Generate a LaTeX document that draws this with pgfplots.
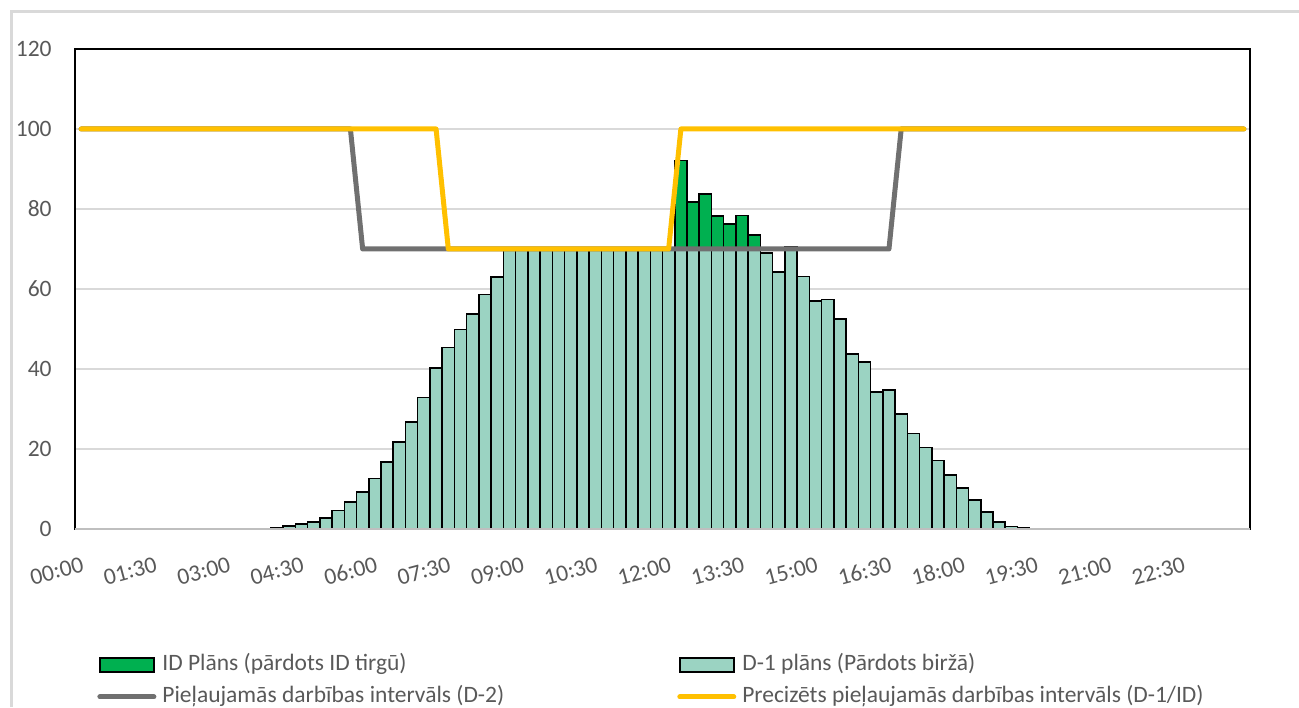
\documentclass[border=0pt]{standalone}
\usepackage{fontspec}
\setmainfont{Carlito}
\usepackage{pgfplots}
\pgfplotsset{compat=1.18}
\definecolor{teal1}{RGB}{155,211,194}
\definecolor{green1}{RGB}{0,176,80}
\definecolor{lgray}{RGB}{112,112,112}
\definecolor{yell}{RGB}{255,192,0}
\definecolor{txt}{RGB}{89,89,89}
\definecolor{gridc}{RGB}{217,217,217}
\definecolor{axisc}{RGB}{191,191,191}
\begin{document}
\begin{tikzpicture}[x=0.5bp,y=0.5bp]
\path[use as bounding box] (0,0) rectangle (1299,707);
\draw[gridc, line width=1.25bp] (11.5,0) -- (11.5,695.5) -- (1299,695.5);
\begin{axis}[
  at={(37.5bp,89bp)}, anchor=south west,
  scale only axis, width=587.5bp, height=240bp,
  xmin=-0.5, xmax=95.5, ymin=0, ymax=120,
  ytick={0,20,...,120},
  xtick={0,6,...,90},
  xticklabels={00:00,01:30,03:00,04:30,06:00,07:30,09:00,10:30,12:00,13:30,15:00,16:30,18:00,19:30,21:00,22:30},
  major tick length=0pt,
  ymajorgrids, grid style={gridc, line width=0.75bp},
  axis line style={black, line width=0.75bp},
  tick label style={font=\fontsize{11.75bp}{14bp}\selectfont, text=txt},
  /pgf/number format/assume math mode=true,
  yticklabel style={anchor=east, inner sep=0pt, xshift=-11.5bp},
  xticklabel style={rotate=15, anchor=north east, inner sep=0pt, yshift=-13bp, xshift=-3.5bp},
  legend columns=2,
  legend cell align=left,
  legend style={draw=none, fill=none, at={(axis description cs:0.0187,-0.31667)}, anchor=west,
    inner sep=0pt, row sep=4.5bp, font=\fontsize{11.75bp}{14bp}\selectfont, text=txt,
    nodes={inner sep=0pt, text height=8.5bp, text depth=3bp},
    /tikz/every odd column/.append style={column sep=3bp},
    /tikz/every even column/.append style={column sep=86.5bp}},
  after end axis/.code={\draw[axisc, line width=0.9bp] (rel axis cs:0,0) -- (rel axis cs:1,0);},
]
% ID plan (stacked above D-1 at 70)
\addplot[ybar, bar width=1, bar shift=0, fill=green1, draw=black, line width=0.75bp, forget plot]
  coordinates {(49,92.1) (50,81.7) (51,83.7) (52,78.25) (53,76.3) (54,78.4) (55,73.5)};
% D-1 plan
\addplot[ybar, bar width=1, bar shift=0, fill=teal1, draw=black, line width=0.75bp, forget plot]
  coordinates {
  (16,0.3) (17,0.8) (18,1.25) (19,1.7) (20,2.75) (21,4.6) (22,6.75) (23,9.25)
  (24,12.6) (25,16.8) (26,21.7) (27,26.75) (28,32.9) (29,40.2) (30,45.4) (31,49.9)
  (32,53.75) (33,58.6) (34,63) (35,70) (36,70) (37,70) (38,70) (39,70)
  (40,70) (41,70) (42,70) (43,70) (44,70) (45,70) (46,70) (47,70)
  (48,70) (49,70) (50,70) (51,70) (52,70) (53,70) (54,70) (55,70)
  (56,69) (57,64.3) (58,70.5) (59,63.1) (60,57) (61,57.4) (62,52.5) (63,43.8)
  (64,41.8) (65,34.3) (66,34.75) (67,28.75) (68,23.9) (69,20.4) (70,17.1) (71,13.5)
  (72,10.3) (73,7.25) (74,4.3) (75,1.8) (76,0.6) (77,0.2) (78,0.05)
  };
% D-2 interval
\addplot[lgray, line width=2.5bp, line cap=round, line join=round, forget plot]
  coordinates {(0,100) (22,100) (23,70) (66,70) (67,100) (95,100)};
% D-1/ID interval
\addplot[yell, line width=2.5bp, line cap=round, line join=round, forget plot]
  coordinates {(0,100) (29,100) (30,70) (48,70) (49,100) (95,100)};
\addlegendimage{legend image code/.code={\draw[fill=green1, draw=black, line width=0.9bp] (0bp,-3.5bp) rectangle (27bp,3.5bp);}}
\addlegendentry{ID Plāns (pārdots ID tirgū)}
\addlegendimage{legend image code/.code={\draw[fill=teal1, draw=black, line width=0.9bp] (0bp,-3.5bp) rectangle (27bp,3.5bp);}}
\addlegendentry{D-1 plāns (Pārdots biržā)}
\addlegendimage{legend image code/.code={\draw[lgray, line width=2.5bp, line cap=round] (0bp,0bp) -- (27bp,0bp);}}
\addlegendentry{Pieļaujamās darbības intervāls (D-2)}
\addlegendimage{legend image code/.code={\draw[yell, line width=2.5bp, line cap=round] (0bp,0bp) -- (27bp,0bp);}}
\addlegendentry{Precizēts pieļaujamās darbības intervāls (D-1/ID)}
\end{axis}
\end{tikzpicture}
\end{document}
